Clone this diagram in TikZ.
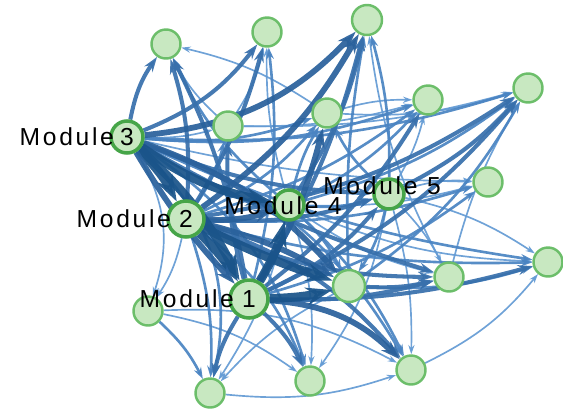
\documentclass[tikz,border=0pt]{standalone}
\usepackage{fontspec}
\newfontfamily\lblfont{Liberation Sans}[LetterSpace=11]
\usetikzlibrary{arrows.meta,backgrounds}

\definecolor{vfill}{RGB}{200,232,193}
\definecolor{vedge}{RGB}{108,190,106}
\definecolor{medge}{RGB}{70,165,72}
\definecolor{ca}{RGB}{100,155,212}
\definecolor{cb}{RGB}{74,132,194}
\definecolor{cc}{RGB}{56,112,172}
\definecolor{cd}{RGB}{42,97,156}
\definecolor{ce}{RGB}{26,84,138}

\begin{document}
\begin{tikzpicture}[x=0.02cm,y=-0.02cm,font={\lblfont\fontsize{14}{16}\selectfont},
    vert/.style={circle,draw=vedge,fill=vfill,line width=1.4pt,minimum size=0.58cm,inner sep=0pt},
    modv/.style={vert,draw=medge,line width=2pt},
    modtext/.style={inner sep=0pt,text=black},
    link/.style={-{Stealth[length=3pt 2.4,width=2pt 1.6]},opacity=0.93},
    ea/.style={link,draw=ca,line width=0.95pt},
    eb/.style={link,draw=cb,line width=1.5pt},
    ec/.style={link,draw=cc,line width=2.3pt},
    ed/.style={link,draw=cd,line width=3.3pt},
    ee/.style={link,draw=ce,line width=5pt}]
  \useasboundingbox (0,0) rectangle (563,410);

  % modules
  \node[modv,minimum size=0.76cm] (m1) at (249,299) {1};
  \node[modv,minimum size=0.72cm] (m2) at (186,219) {2};
  \node[modv,minimum size=0.64cm] (m3) at (127,137) {3};
  \node[modv,minimum size=0.6cm]  (m4) at (289,205) {};
  \node[modv,minimum size=0.6cm]  (m5) at (389,194) {};

  % other vertices
  \node[vert] (n1) at (166,44) {};
  \node[vert] (n2) at (267,32) {};
  \node[vert,minimum size=0.6cm] (n3) at (367,20) {};
  \node[vert] (n4) at (228,126) {};
  \node[vert] (n5) at (327,113) {};
  \node[vert] (n6) at (428,100) {};
  \node[vert] (n7) at (528,88) {};
  \node[vert] (n8) at (488,182) {};
  \node[vert] (n9) at (548,262) {};
  \node[vert] (n10) at (449,277) {};
  \node[vert,minimum size=0.64cm] (n11) at (349,286) {};
  \node[vert] (n12) at (148,311) {};
  \node[vert] (n13) at (210,393) {};
  \node[vert] (n14) at (310,381) {};
  \node[vert] (n15) at (411,370) {};

  % links
  \begin{pgfonlayer}{background}
    \foreach \s/\t/\st/\b in {
        n4/n1/ea/10, n5/n1/ea/-10, m4/n2/ea/8, n4/n2/ea/-10, n10/n3/ea/10,
        m3/n4/ea/-8, n4/n6/ea/-8, n5/n7/ea/-10, n10/n7/ea/8, m3/n8/ea/-6,
        m4/n8/ea/-8, m5/n9/ea/10, n15/n9/ea/-12, m5/n10/ea/8, m3/n12/ea/25,
        m2/n12/ea/10, m4/n13/ea/10, n11/n13/ea/-10, n12/n14/ea/12, n12/n15/ea/15,
        n13/n15/ea/-12, m5/n6/ea/-8, m5/n8/ea/10, n4/n7/ea/-8, n5/n6/ea/8,
        m5/n15/ea/8, m4/n14/ea/10, m5/n14/ea/12, m4/n10/ea/-10, m4/n9/ea/-10,
        m4/m5/eb/-10, m4/n1/eb/12, m1/n2/eb/-10, m5/n3/eb/-8, n11/n3/eb/6,
        m2/n5/eb/-12, m3/n5/eb/-12, m4/n6/eb/-10, m3/n6/eb/-12, m2/n6/eb/-10,
        m3/n7/eb/-10, m4/n7/eb/-10, n11/n7/eb/-12, m1/n8/eb/-10, m2/n8/eb/-10,
        m2/n9/eb/-8, n11/n9/eb/-10, m3/n9/eb/-8, m5/n11/eb/10, m4/n5/eb/8,
        m4/n11/eb/10, m2/n13/eb/10, m3/n13/eb/30, n12/n13/eb/10, m2/n14/eb/15,
        m3/n14/eb/20, m3/n15/eb/20, m4/n15/eb/10, m2/n4/eb/-10, m5/n5/eb/10,
        m3/m5/ec/-10, m2/m5/ec/-10, m1/m5/ec/-12, m3/n1/ec/12, m2/n1/ec/-10,
        m1/n1/ec/-8, m3/n2/ec/-15, m2/n2/ec/-8, m1/n3/ec/-8, m4/n3/ec/-10,
        m1/n4/ec/8, m1/n6/ec/-10, m2/n7/ec/-12, m5/n7/ec/-10, m1/n7/ec/-12,
        m1/n9/ec/-8, m1/n10/ec/-8, n11/n10/ec/-8, m1/n13/ec/-10, m1/n14/ec/10,
        m2/n15/ec/15, m3/n10/ec/-6, m2/n10/ec/-12,
        m2/m4/ed/-10, m2/n11/ed/8, m3/n3/ed/-20,
        m2/n3/ed/-12, m1/n5/ed/-8, m1/n15/ed/20, m3/n11/ed/14,
        m3/m2/ee/8, m3/m1/ee/10, m2/m1/ee/6, m1/m4/ee/-8, m1/n11/ee/-6,
        m3/m4/ee/-12, m2/n11/ee/-4, m3/m1/ed/-6}
      \draw[\st] (\s) to[bend left=\b] (\t);
  \end{pgfonlayer}

  % module labels
  \node[modtext,anchor=east] (l1) at ([xshift=0.12cm]m1.west) {Module};
  \node[modtext,anchor=east] (l2) at ([xshift=0.1cm]m2.west) {Module};
  \node[modtext,anchor=east] (l3) at ([xshift=0.1cm]m3.west) {Module};
  \node[modtext] (l4) at (283,206) {Module 4};
  \node[modtext] (l5) at (382,186) {Module 5};
\end{tikzpicture}
\end{document}
